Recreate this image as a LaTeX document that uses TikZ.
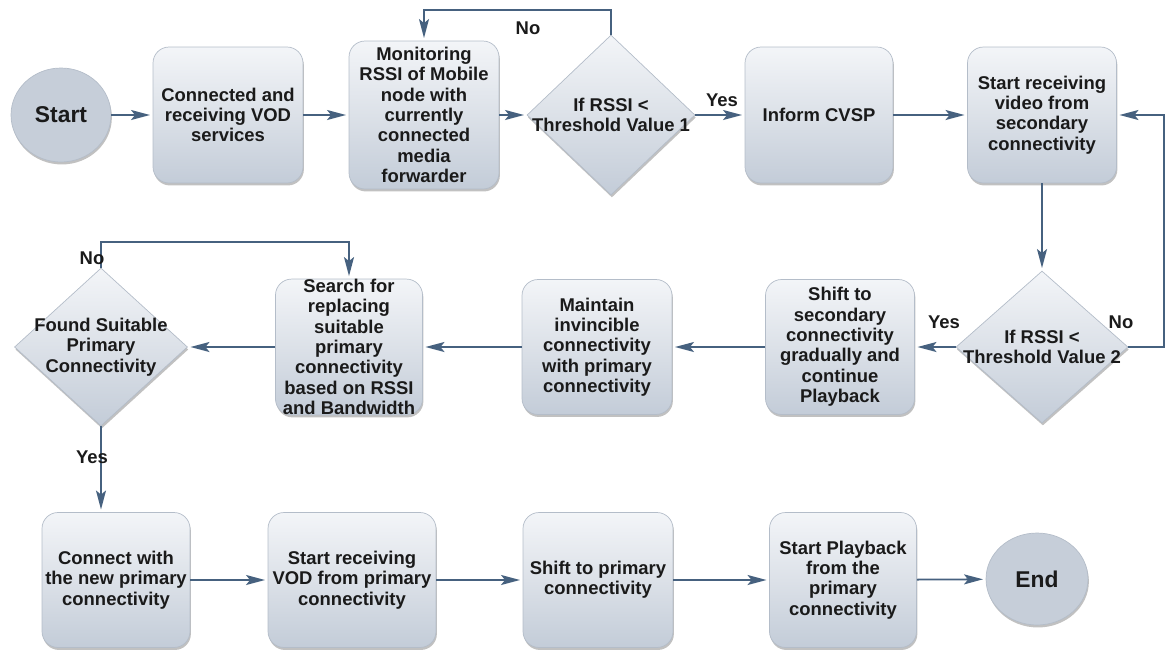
\documentclass[tikz,border=0pt]{standalone}
\usepackage{fontspec}
\setmainfont{Liberation Sans}
\usetikzlibrary{arrows.meta,shapes.geometric,shadows}
\definecolor{flowink}{HTML}{1A1A1A}
\definecolor{flowline}{HTML}{46617F}
\definecolor{boxtop}{HTML}{F3F5F8}
\definecolor{boxmid}{HTML}{DCE1E8}
\definecolor{boxbot}{HTML}{C3CCD8}
\definecolor{boxedge}{HTML}{B4BDC9}
\definecolor{termfill}{HTML}{C6CED9}
\newcommand{\flowfont}{\fontsize{10.5pt}{11.6pt}\selectfont\bfseries}
\newcommand{\termfont}{\fontsize{13pt}{14pt}\selectfont\bfseries}

\begin{document}
\begin{tikzpicture}[
  x=0.02cm,
  y=-0.02cm,
  every node/.style={font=\flowfont, text=flowink},
  softshadow/.style={drop shadow={shadow xshift=0.5pt, shadow yshift=-1.4pt,
    opacity=0.35, fill=black!70}},
  stepbox/.style={rectangle, rounded corners=0.32cm, draw=boxedge,
    line width=0.4pt, top color=boxtop, bottom color=boxbot,
    middle color=boxmid, minimum width=3cm, minimum height=2.72cm,
    inner sep=0pt, align=center, softshadow},
  decision/.style={diamond, draw=boxedge, line width=0.4pt,
    top color=boxtop, bottom color=boxbot, middle color=boxmid,
    inner sep=0pt, softshadow},
  dtext/.style={align=center, inner sep=0pt},
  terminal/.style={ellipse, fill=termfill, draw=boxedge, line width=0.4pt,
    minimum width=2cm, minimum height=1.88cm, font=\termfont, softshadow},
  flow/.style={flowline, line width=1pt, shorten >=1.5pt,
    -{Stealth[length=0.38cm, width=0.2cm, inset=0.08cm]}},
  tag/.style={inner sep=0pt}
]
\useasboundingbox (0,0) rectangle (1166,650);

% =====================================================================
% top row
% =====================================================================
\node[terminal] (start) at (61,115) {Start};
\node[stepbox] (connected) at (228,115)
  {Connected and\\receiving VOD\\services};
\node[stepbox, minimum height=2.96cm] (monitor) at (424,115)
  {Monitoring\\RSSI of Mobile\\node with\\currently\\connected\\media\\forwarder};
\node[decision, minimum width=3.36cm, minimum height=3.2cm] (rssione)
  at (611,115) {};
\node[dtext] at (rssione) {If RSSI <\\Threshold Value 1};
\node[stepbox, minimum width=2.96cm] (inform) at (819,115) {Inform CVSP};
\node[stepbox, minimum width=2.98cm] (secondary) at (1042,115)
  {Start receiving\\video from\\secondary\\connectivity};

\draw[flow] (start) -- (connected);
\draw[flow] (connected) -- (monitor);
\draw[flow] (monitor) -- (rssione.west);
\draw[flow] (rssione.east) -- (inform);
\draw[flow] (inform) -- (secondary);
\draw[flow] (rssione.north) -- ++(0,-25) -| (monitor.north);
\node[tag] at (722,100) {Yes};
\node[tag] at (528,28) {No};

% =====================================================================
% middle row
% =====================================================================
\node[decision, minimum width=3.44cm, minimum height=3.04cm] (rssitwo)
  at (1042,347) {};
\node[dtext] at (rssitwo) {If RSSI <\\Threshold Value 2};
\node[stepbox, minimum width=2.98cm, minimum height=2.7cm] (shiftsec)
  at (840,347)
  {Shift to\\secondary\\connectivity\\gradually and\\continue\\Playback};
\node[stepbox, minimum height=2.7cm] (maintain) at (597,347)
  {Maintain\\invincible\\connectivity\\with primary\\connectivity};
\node[stepbox, minimum width=2.94cm, minimum height=2.7cm] (search)
  at (349,347)
  {Search for\\replacing\\suitable\\primary\\connectivity\\based on RSSI\\and Bandwidth};
\node[decision, minimum width=3.46cm, minimum height=3.16cm] (found)
  at (101,347) {};
\node[dtext] at (found) {Found Suitable\\Primary\\Connectivity};

\draw[flow] (secondary.south) -- (rssitwo.north);
\draw[flow] (rssitwo.east) -- ++(36,0) |- (secondary.east);
\draw[flow] (rssitwo.west) -- (shiftsec);
\draw[flow] (shiftsec) -- (maintain);
\draw[flow] (maintain) -- (search);
\draw[flow] (search) -- (found.east);
\draw[flow] (found.north) -- ++(0,-26) -| (search.north);
\node[tag] at (944,322) {Yes};
\node[tag] at (1121,322) {No};
\node[tag] at (92,258) {No};

% =====================================================================
% bottom row
% =====================================================================
\node[stepbox, minimum width=2.96cm, minimum height=2.7cm] (connect)
  at (116,580) {Connect with\\the new primary\\connectivity};
\node[stepbox, minimum width=3.36cm, minimum height=2.7cm] (vod)
  at (352,580) {Start receiving\\VOD from primary\\connectivity};
\node[stepbox, minimum height=2.7cm] (shiftpri) at (598,580)
  {Shift to primary\\connectivity};
\node[stepbox, minimum width=2.94cm, minimum height=2.7cm] (playback)
  at (843,580) {Start Playback\\from the\\primary\\connectivity};
\node[terminal, minimum width=2.04cm, minimum height=1.84cm] (finish)
  at (1037,579) {End};

\draw[flow] (found.south) -- (found.south |- connect.north);
\draw[flow] (connect) -- (vod);
\draw[flow] (vod) -- (shiftpri);
\draw[flow] (shiftpri) -- (playback);
\draw[flow] (playback) -- (finish);
\node[tag] at (92,457) {Yes};

\end{tikzpicture}
\end{document}
